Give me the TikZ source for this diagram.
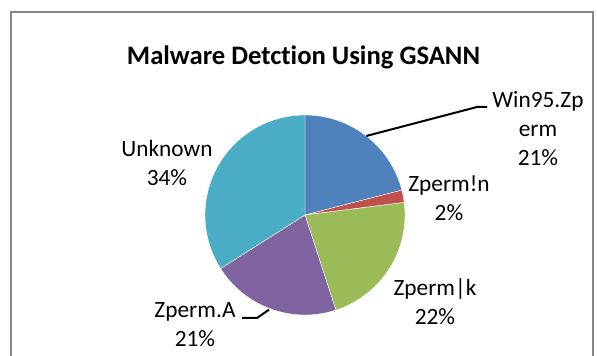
\documentclass[tikz,border=0pt]{standalone}
\usepackage{fontspec}
\setmainfont[Ligatures=CommonOff]{Carlito}
\definecolor{sblue}{HTML}{4F81BD}
\definecolor{sred}{HTML}{C0504D}
\definecolor{sgreen}{HTML}{9BBB59}
\definecolor{spurple}{HTML}{8064A2}
\definecolor{saqua}{HTML}{4BACC6}
\definecolor{frame}{HTML}{878787}
\begin{document}
\begin{tikzpicture}[x=0.75pt,y=0.75pt,
  lbl/.style={font=\fontsize{17.5}{21.75}\selectfont, align=center, anchor=base, inner sep=0pt},
  leader/.style={draw=black, line width=1.5pt},
  slice/.style={draw=white, line width=0.3pt}]
\useasboundingbox (0,0) rectangle (597,356);
\draw[frame, line width=1.5pt] (11,-2) -- (11,344) -- (593,344) -- (593,-2);
\node[font=\fontsize{20}{24}\selectfont\bfseries, anchor=base, inner sep=0pt] (title) at (303.5,291) {Malware Detction Using GSANN};
\coordinate (c) at (305,141);
\filldraw[slice, fill=sblue]   (c) -- ++(90:75pt)    arc[start angle=90,    end angle=14.4,   radius=75pt] -- cycle;
\filldraw[slice, fill=sred]    (c) -- ++(14.4:75pt)  arc[start angle=14.4,  end angle=7.2,    radius=75pt] -- cycle;
\filldraw[slice, fill=sgreen]  (c) -- ++(7.2:75pt)   arc[start angle=7.2,   end angle=-72,    radius=75pt] -- cycle;
\filldraw[slice, fill=spurple] (c) -- ++(-72:75pt)   arc[start angle=-72,   end angle=-147.6, radius=75pt] -- cycle;
\filldraw[slice, fill=saqua]   (c) -- ++(-147.6:75pt) arc[start angle=-147.6, end angle=-270,  radius=75pt] -- cycle;
% labels (base anchor = baseline of last line)
\node[lbl] (lw) at (538,190) {Win95.Zp\\erm\\21\%};
\node[lbl] (ln) at (449,135) {Zperm!n\\2\%};
\node[lbl] (lk) at (435,31) {Zperm|k\\22\%};
\node[lbl] (la) at (195,9) {Zperm.A\\21\%};
\node[lbl] (lu) at (167,170) {Unknown\\34\%};
% leaders
\path (c) ++(52.2:75pt) coordinate (pw);
\coordinate (bw) at (477,249);
\coordinate (ew) at (487,249);
\draw[leader] (pw) -- (bw) -- (ew);
\path (c) ++(-110.8:76pt) coordinate (pa);
\coordinate (ba) at (257,38);
\coordinate (ea) at (242,38);
\draw[leader] (pa) -- (ba) -- (ea);
\end{tikzpicture}
\end{document}
